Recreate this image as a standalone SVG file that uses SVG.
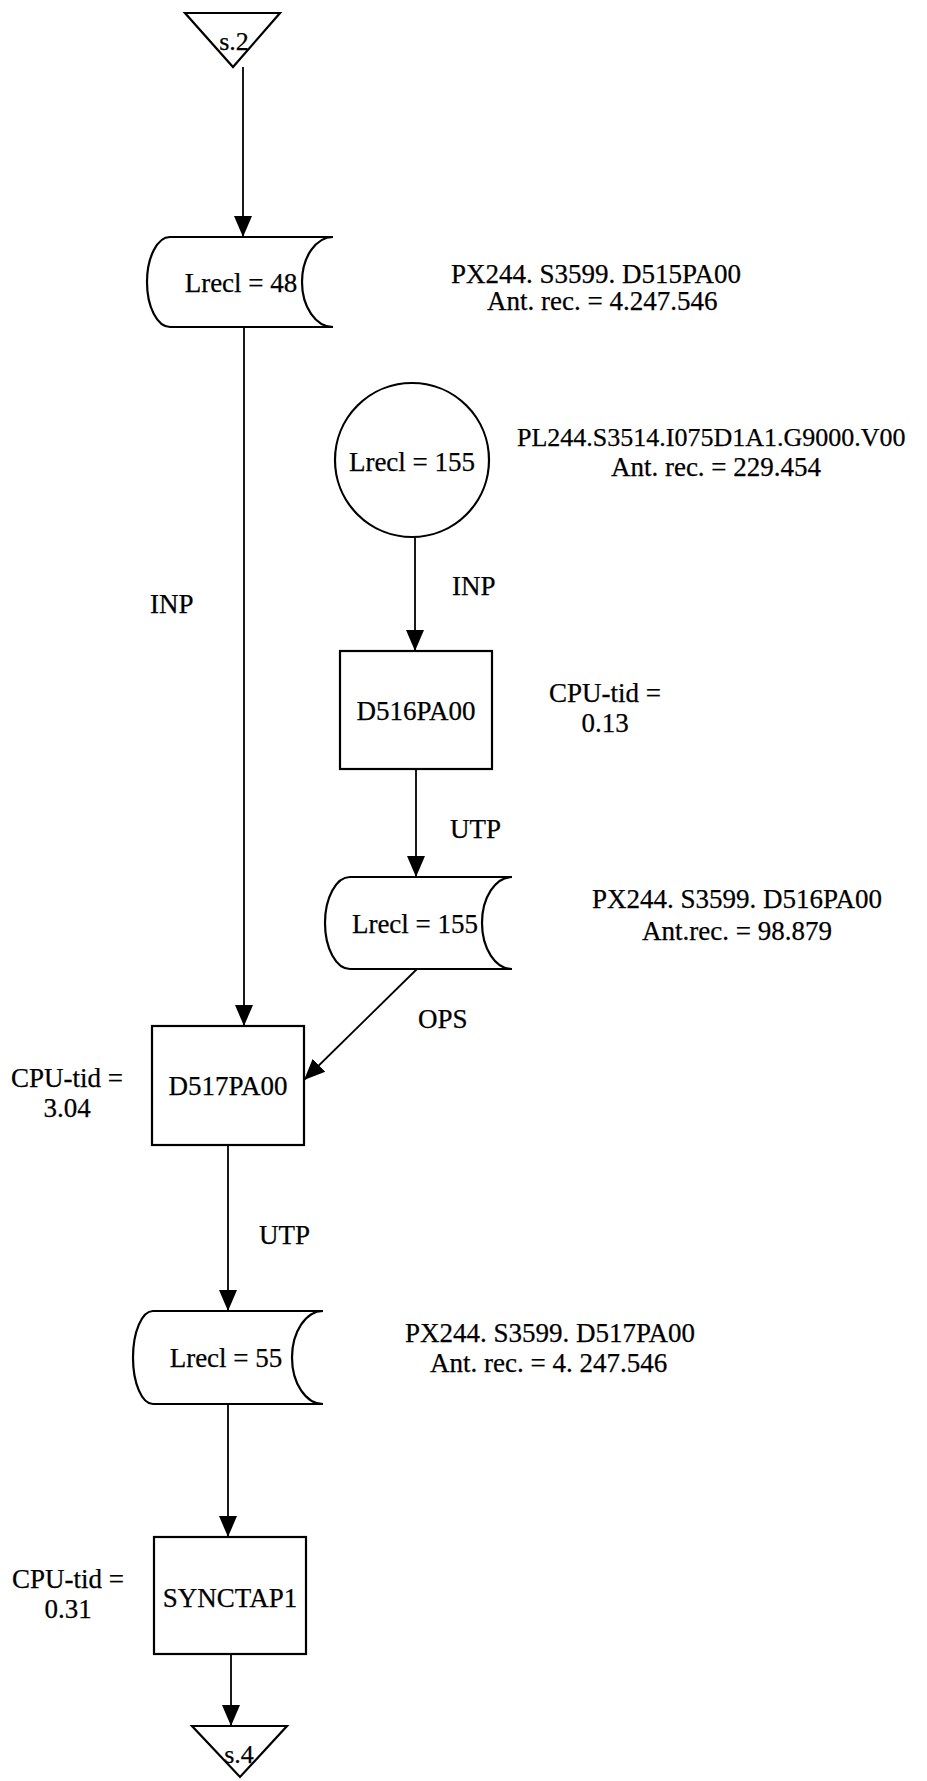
<svg xmlns="http://www.w3.org/2000/svg" width="927" height="1781" viewBox="0 0 927 1781">
<style>
text{font-family:"Liberation Serif","Times New Roman",serif;font-size:27px;fill:#000;stroke:#000;stroke-width:0.25}
.c{text-anchor:middle}
.s{fill:#fff;stroke:#000;stroke-width:2.2}
.l{fill:none;stroke:#000;stroke-width:1.8}
</style>
<defs>
<marker id="ah" markerUnits="userSpaceOnUse" markerWidth="21" markerHeight="20" viewBox="0 0 21 20" refX="21" refY="10" orient="auto">
<path d="M0,1 L21,10 L0,19 Z" fill="#000"/>
</marker>
</defs>
<rect width="927" height="1781" fill="#fff"/>
<g id="connectors">
<path class="l" d="M243,67 V237" marker-end="url(#ah)"/>
<path class="l" d="M244,327 V1026" marker-end="url(#ah)"/>
<path class="l" d="M415,537 V651" marker-end="url(#ah)"/>
<path class="l" d="M416,769 V877" marker-end="url(#ah)"/>
<path class="l" d="M417,969 L304,1080" marker-end="url(#ah)"/>
<path class="l" d="M228,1145 V1311" marker-end="url(#ah)"/>
<path class="l" d="M228,1404 V1537" marker-end="url(#ah)"/>
<path class="l" d="M231,1654 V1726" marker-end="url(#ah)"/>
<text x="150" y="613">INP</text>
<text x="452" y="595">INP</text>
<text x="450" y="838">UTP</text>
<text x="418" y="1028">OPS</text>
<text x="259" y="1244">UTP</text>
</g>
<g id="s2">
<path class="s" d="M185,13 H280 L233,67 Z"/>
<text class="c" x="234" y="50" style="font-size:26px">s.2</text>
</g>
<g id="file48">
<path class="s" d="M170,237 H333 A31,45 0 0 0 333,327 H170 A23,45 0 0 1 170,237 Z"/>
<text class="c" x="241" y="292">Lrecl = 48</text>
<text x="451" y="283">PX244. S3599. D515PA00</text>
<text x="487" y="310">Ant. rec. = 4.247.546</text>
</g>
<g id="tape155">
<circle class="s" cx="412" cy="460" r="77"/>
<text class="c" x="412" y="471">Lrecl = 155</text>
<text x="517" y="446" style="font-size:26px">PL244.S3514.I075D1A1.G9000.V00</text>
<text class="c" x="716" y="476">Ant. rec. = 229.454</text>
</g>
<g id="D516PA00">
<rect class="s" x="340" y="651" width="152" height="118"/>
<text class="c" x="416" y="720">D516PA00</text>
<text class="c" x="605" y="702">CPU-tid =</text>
<text class="c" x="605" y="732">0.13</text>
</g>
<g id="file155">
<path class="s" d="M350,877 H512 A30,46 0 0 0 512,969 H350 A25,46 0 0 1 350,877 Z"/>
<text class="c" x="415" y="933">Lrecl = 155</text>
<text x="592" y="908">PX244. S3599. D516PA00</text>
<text x="642" y="940">Ant.rec. = 98.879</text>
</g>
<g id="D517PA00">
<rect class="s" x="152" y="1026" width="152" height="119"/>
<text class="c" x="228" y="1095">D517PA00</text>
<text class="c" x="67" y="1087">CPU-tid =</text>
<text class="c" x="67" y="1117">3.04</text>
</g>
<g id="file55">
<path class="s" d="M153,1311 H323 A31,46.5 0 0 0 323,1404 H153 A20,46.5 0 0 1 153,1311 Z"/>
<text class="c" x="226" y="1367">Lrecl = 55</text>
<text x="405" y="1342">PX244. S3599. D517PA00</text>
<text x="430" y="1372">Ant. rec. = 4. 247.546</text>
</g>
<g id="SYNCTAP1">
<rect class="s" x="154" y="1537" width="152" height="117"/>
<text class="c" x="230" y="1607">SYNCTAP1</text>
<text class="c" x="68" y="1588">CPU-tid =</text>
<text class="c" x="68" y="1618">0.31</text>
</g>
<g id="s4">
<path class="s" d="M192,1726 H287 L240,1777 Z"/>
<text class="c" x="239" y="1763" style="font-size:26px">s.4</text>
</g>
</svg>
